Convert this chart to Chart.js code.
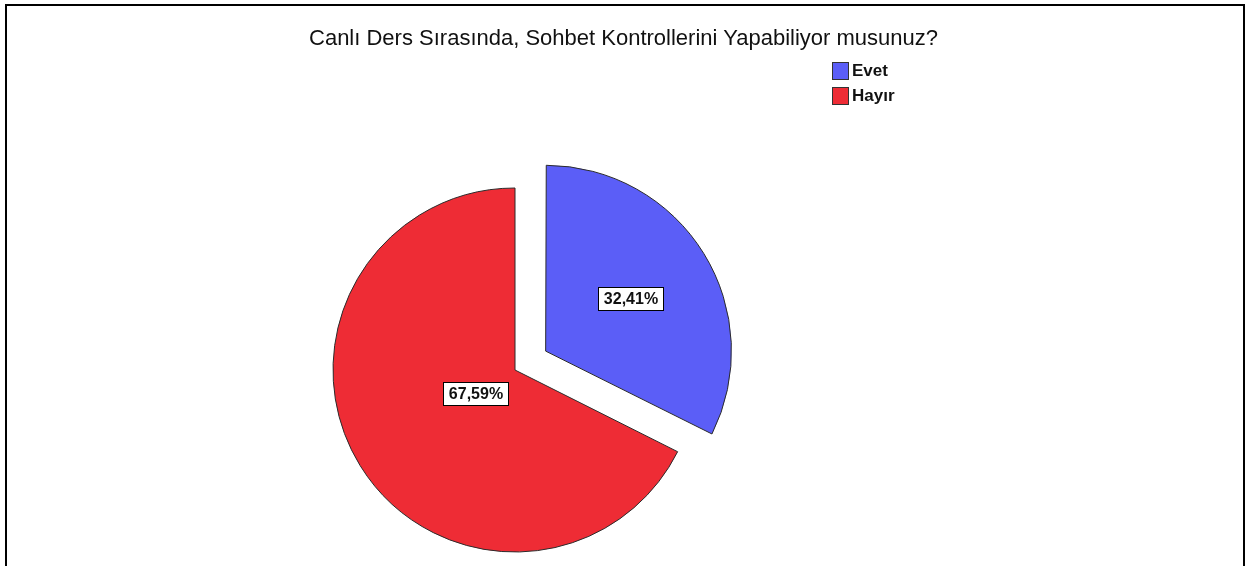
<!DOCTYPE html>
<html lang="tr">
<head>
<meta charset="utf-8">
<title>Canlı Ders Sırasında, Sohbet Kontrollerini Yapabiliyor musunuz?</title>
<script src="https://cdn.jsdelivr.net/npm/chart.js@4.4.0/dist/chart.umd.min.js"></script>
<style>
  html, body { margin: 0; padding: 0; background: #fff; }
  body { width: 1247px; height: 566px; position: relative; overflow: hidden; font-family: "Liberation Sans", Arial, sans-serif; }
  #frame { position: absolute; left: 5px; top: 4px; width: 1236px; height: 620px; border: 2px solid #000; border-bottom: none; }
  #chart-title { position: absolute; left: 0; top: 25px; width: 1247px; line-height: 26px; text-align: center; font-size: 22px; color: #111; }
  #legend { position: absolute; left: 832px; top: 58px; }
  .legend-item { display: flex; align-items: center; height: 25px; font-weight: bold; font-size: 17px; color: #111; }
  .legend-box { width: 17px; height: 18px; margin-right: 3px; box-sizing: border-box; border: 1px solid #333; }
  #chart-wrap { position: absolute; left: 0; top: 0; width: 1247px; height: 566px; }
</style>
</head>
<body>
<div id="frame"></div>
<div id="chart-wrap"><canvas id="pie"></canvas></div>
<div id="chart-title">Canlı Ders Sırasında, Sohbet Kontrollerini Yapabiliyor musunuz?</div>
<div id="legend"></div>
<script>
const labels = ["Evet", "Hayır"];
const percents = [32.41, 67.59];
const sliceColors = ["#5b5ef7", "#ee2c35"];
// chart.js v4 moves an arc by offset / 4, so 144 -> ~36px pulled out
const sliceOffsets = [144, 0];

// legend (html, next to the title like in the original)
const legendEl = document.getElementById("legend");
labels.forEach((label, i) => {
	const item = document.createElement("div");
	item.className = "legend-item";
	const box = document.createElement("span");
	box.className = "legend-box";
	box.style.background = sliceColors[i];
	item.appendChild(box);
	item.appendChild(document.createTextNode(label));
	legendEl.appendChild(item);
});

function formatPercent(value) {
	return value.toFixed(2).replace(".", ",") + "%";
}

// white boxed percentage labels inside the slices
const sliceLabels = {
	id: "sliceLabels",
	afterDatasetsDraw(chart, args, opts) {
		const ctx = chart.ctx;
		const meta = chart.getDatasetMeta(0);
		ctx.save();
		ctx.font = opts.font;
		ctx.textAlign = "center";
		ctx.textBaseline = "middle";
		meta.data.forEach((arc, i) => {
			const p = arc.getProps(["x", "y", "startAngle", "endAngle", "outerRadius"], true);
			const mid = (p.startAngle + p.endAngle) / 2;
			const dist = sliceOffsets[i] / 4 + opts.radial[i] * p.outerRadius;
			const cx = p.x + Math.cos(mid) * dist;
			const cy = p.y + Math.sin(mid) * dist;
			const text = formatPercent(percents[i]);
			const w = Math.round(ctx.measureText(text).width + opts.padX * 2);
			const h = opts.boxHeight;
			const left = Math.round(cx - w / 2);
			const top = Math.round(cy - h / 2);
			ctx.fillStyle = "#fff";
			ctx.fillRect(left, top, w, h);
			ctx.strokeStyle = "#000";
			ctx.lineWidth = 1;
			ctx.strokeRect(left + 0.5, top + 0.5, w - 1, h - 1);
			ctx.fillStyle = "#111";
			ctx.fillText(text, left + w / 2, top + h / 2 + 1);
		});
		ctx.restore();
	},
};

const pieChart = new Chart(document.getElementById("pie"), {
	type: "pie",
	data: {
		labels: labels,
		datasets: [
			{
				data: percents,
				backgroundColor: sliceColors,
				borderColor: "#2b2b2b",
				borderWidth: 1,
				offset: sliceOffsets,
				hoverOffset: 0,
			},
		],
	},
	options: {
		responsive: true,
		maintainAspectRatio: false,
		animation: false,
		events: [],
		radius: 182,
		layout: {
			padding: { left: 0, right: 217, top: 174, bottom: 0 },
		},
		plugins: {
			legend: { display: false },
			title: { display: false },
			tooltip: { enabled: false },
			sliceLabels: {
				font: "bold 16px 'Liberation Sans', Arial, sans-serif",
				padX: 6,
				boxHeight: 24,
				radial: [0.55, 0.25],
			},
		},
	},
	plugins: [sliceLabels],
});
</script>
</body>
</html>
